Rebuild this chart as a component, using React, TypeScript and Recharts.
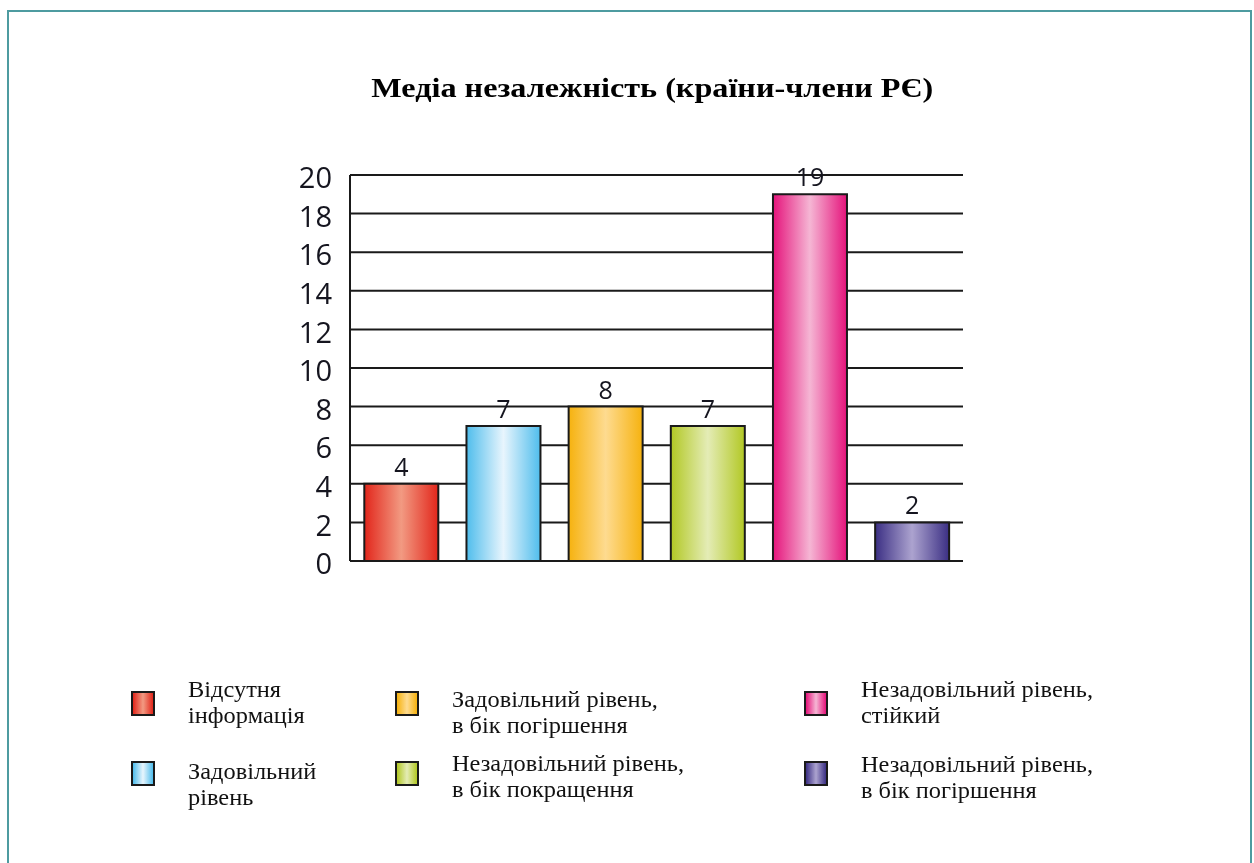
import React from 'react';
import { BarChart, Bar, XAxis, YAxis, CartesianGrid, Cell, LabelList } from 'recharts';

const categories = [
  'Відсутня інформація',
  'Задовільний рівень',
  'Задовільний рівень, в бік погіршення',
  'Незадовільний рівень, в бік покращення',
  'Незадовільний рівень, стійкий',
  'Незадовільний рівень, в бік погіршення',
];
const values = [4, 7, 8, 7, 19, 2];
const yTicks = [0, 2, 4, 6, 8, 10, 12, 14, 16, 18, 20];
const title = 'Медіа незалежність (країни-члени РЄ)';
const legendLines = [
  ['Відсутня', 'інформація'],
  ['Задовільний', 'рівень'],
  ['Задовільний рівень,', 'в бік погіршення'],
  ['Незадовільний рівень,', 'в бік покращення'],
  ['Незадовільний рівень,', 'стійкий'],
  ['Незадовільний рівень,', 'в бік погіршення'],
];
const edgeColors = ['#e2261b', '#4fbdec', '#f6b20f', '#b2c824', '#e5137b', '#3b2f84'];
const centerColors = ['#f29a82', '#e8f5fd', '#fedb90', '#e4ecb6', '#f5b6d4', '#aca3cf'];

const data = categories.map((c, i) => ({ name: c, value: values[i] }));

// legend layout (column-major grid)
const legendCols = [
  { sq: 131, tx: 188 },
  { sq: 395, tx: 452 },
  { sq: 804, tx: 861 },
];
const legendRows = [691, 761];
const legendTextDy = [[-14, -2], [-4, -10], [-14, -9]];

export default function App() {
  return (
    <div style={{ position: 'relative', width: 1238, height: 847 }}>
      <div style={{ position: 'absolute', left: -8, top: -8, width: 1254, height: 863 }}>
        <div
          style={{
            position: 'fixed',
            left: 7,
            top: 10,
            width: 1245,
            height: 900,
            border: '2px solid #4e9ba0',
            boxSizing: 'border-box',
          }}
        />
        <div
          style={{
            position: 'absolute',
            left: 0,
            width: 1304,
            top: 70,
            textAlign: 'center',
            lineHeight: '36px',
          }}
        >
          <span
            style={{
              display: 'inline-block',
              fontFamily: '"Liberation Serif", serif',
              fontWeight: 'bold',
              fontSize: 28,
              color: '#000',
              transform: 'scaleX(1.15)',
              transformOrigin: 'center',
            }}
          >
            {title}
          </span>
        </div>
        <div style={{ position: 'absolute', left: 0, top: 0 }}>
          <BarChart
            width={1000}
            height={620}
            data={data}
            margin={{ top: 175, right: 37, left: 290, bottom: 59 }}
            barCategoryGap="14%"
          >
            <defs>
              {edgeColors.map((c, i) => (
                <linearGradient key={i} id={`grad${i}`} x1="0" y1="0" x2="1" y2="0">
                  <stop offset="0%" stopColor={c} />
                  <stop offset="50%" stopColor={centerColors[i]} />
                  <stop offset="100%" stopColor={c} />
                </linearGradient>
              ))}
            </defs>
            <CartesianGrid vertical={false} stroke="#1a1a1a" strokeWidth={2} />
            <XAxis dataKey="name" hide />
            <YAxis
              width={60}
              domain={[0, 20]}
              ticks={yTicks}
              interval={0}
              axisLine={{ stroke: '#1a1a1a', strokeWidth: 2 }}
              tickLine={false}
              tickSize={0}
              tickMargin={18}
              tick={{ fill: '#15151f', fontSize: 29, fontFamily: '"Open Sans", sans-serif', dy: 3 }}
            />
            <Bar dataKey="value" isAnimationActive={false} stroke="#1a1a1a" strokeWidth={2}>
              {data.map((d, i) => (
                <Cell key={i} fill={`url(#grad${i})`} />
              ))}
              <LabelList
                dataKey="value"
                position="top"
                offset={8}
                fill="#15151f"
                fontSize={25}
                fontFamily='"Open Sans", sans-serif'
              />
            </Bar>
          </BarChart>
        </div>
        {legendLines.map((lines, i) => {
          const col = Math.floor(i / 2);
          const row = i % 2;
          const y = legendRows[row];
          return (
            <React.Fragment key={i}>
              <div
                style={{
                  position: 'absolute',
                  left: legendCols[col].sq,
                  top: y,
                  width: 24,
                  height: 25,
                  boxSizing: 'border-box',
                  border: '2px solid #1a1a1a',
                  background: `linear-gradient(to right, ${edgeColors[i]}, ${centerColors[i]} 50%, ${edgeColors[i]})`,
                }}
              />
              <div
                style={{
                  position: 'absolute',
                  left: legendCols[col].tx,
                  top: y + legendTextDy[col][row],
                  fontFamily: '"Liberation Serif", serif',
                  fontSize: 23,
                  lineHeight: '26px',
                  color: '#111',
                  whiteSpace: 'nowrap',
                  transform: 'scaleX(1.06)',
                  transformOrigin: 'left top',
                }}
              >
                {lines.map((l, j) => (
                  <div key={j}>{l}</div>
                ))}
              </div>
            </React.Fragment>
          );
        })}
      </div>
    </div>
  );
}
